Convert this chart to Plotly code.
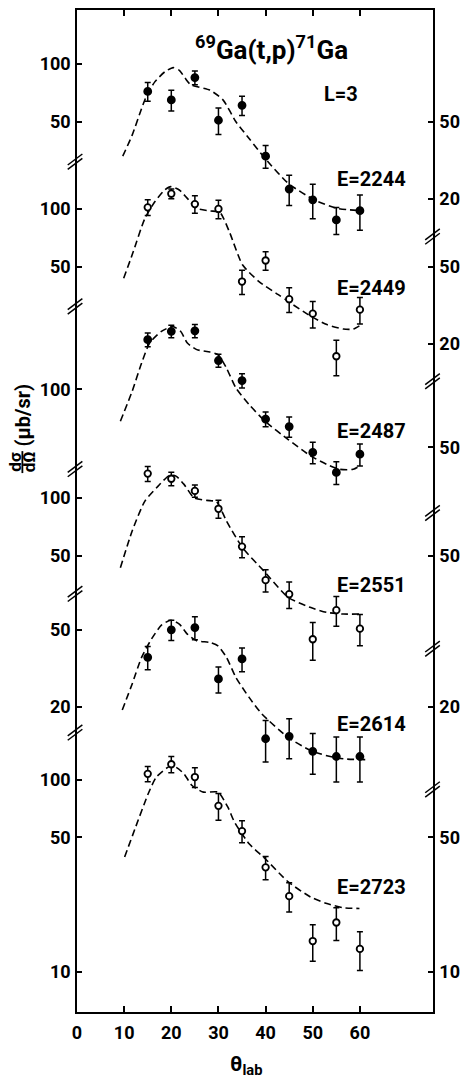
import plotly.graph_objects as go

# ---------------- data ----------------
theta = [15, 20, 25, 30, 35, 40, 45, 50, 55, 60]

energies = ["2244", "2449", "2487", "2551", "2614", "2723"]

sig_2244 = [72, 65, 85, 51, 61, 33.2, 22.4, 19.7, 15.5, 17.3]
err_2244 = [8, 8, 7, 8, 7, 4.5, 4, 4, 2.5, 3.6]
sig_2449 = [102, 120, 106, 100, 42, 54, 34, 28.6, 17.2, 30]
err_2449 = [9.5, 7, 11, 11, 6, 6, 5, 4.5, 3.6, 4.7]
sig_2487 = [181, 200, 201, 141, 111, 70, 64, 47, 37, 46]
err_2487 = [15, 15, 16, 11, 9.5, 6.2, 7.7, 6, 5, 6]
sig_2551 = [134, 126, 109, 88, 56, 37.5, 31.7, 18.5, 26.2, 21]
err_2551 = [12, 10, 8, 9.5, 7, 5, 5, 4.1, 4.6, 3.9]
sig_2614 = [36, 50, 51.4, 27.8, 35.3, 13.6, 14, 11.7, 11, 11]
err_2614 = [5, 6, 7, 4.3, 5, 3.3, 3.3, 2.8, 2.9, 2.9]
sig_2723 = [107, 120, 103, 73, 54, 35, 24.8, 14.5, 18.1, 13.2]
err_2723 = [9.7, 11.7, 12, 11.6, 7, 4.8, 4.3, 3.1, 3.5, 3]

# DWBA curves (L=3)
cx_2244 = [9.7, 11.7, 13.7, 14.8, 16.5, 18.6, 20.4, 21.7, 23.0, 24.1, 28.2, 31.0, 33.7, 36.5, 39.9, 44.8, 50.3, 55.1, 60.6]
cy_2244 = [33.2, 42.7, 58.7, 68.8, 80.7, 90.9, 95.7, 92.7, 83.9, 78.1, 73.1, 64.9, 50.1, 41, 32.3, 24, 19.7, 17.8, 17.3]
cx_2449 = [9.9, 11.7, 14.4, 16.5, 18.6, 19.9, 21.7, 23.4, 25.4, 28.2, 30.3, 32.3, 35.1, 38.6, 42.7, 44.8, 49.6, 53.0, 56.5, 58.6, 60.3]
cy_2449 = [43.7, 57.8, 89.4, 109, 125.5, 130.6, 125.5, 113.5, 100.7, 97.7, 96.1, 76.3, 51.3, 42, 35.9, 33.1, 27.7, 25.1, 23.8, 23.8, 25.1]
cx_2487 = [9.2, 11.7, 13.7, 15.4, 17.9, 20.3, 22.0, 23.4, 25.4, 28.2, 29.9, 31.7, 33.7, 36.5, 39.9, 44.8, 49.6, 53.0, 55.8, 58.6, 59.9]
cy_2487 = [68.2, 97.6, 136.8, 173.8, 199.6, 211.8, 199.6, 173.8, 160.6, 156, 151.3, 128.8, 101.6, 83.3, 68.2, 54.8, 45, 40.7, 38.4, 38.4, 39.9]
cx_2551 = [9.2, 11.7, 14.4, 17.2, 19.6, 21.0, 22.7, 24.8, 27.5, 29.6, 31.7, 35.1, 39.6, 44.8, 49.6, 53.0, 56.5, 59.9]
cy_2551 = [43.5, 67.5, 96.5, 115.4, 131.2, 130, 117.8, 100.4, 97.3, 95.7, 76, 55.3, 41.9, 30.5, 27, 25.5, 25, 25]
cx_2614 = [9.6, 11.7, 13.7, 15.8, 17.9, 19.9, 21.7, 23.4, 25.4, 28.2, 29.9, 31.7, 33.7, 36.5, 39.2, 44.8, 49.6, 53.0, 56.5, 61.3]
cy_2614 = [19.2, 26.2, 36, 44.8, 52.9, 56.1, 53.6, 47.5, 43.9, 43, 41.3, 36, 28.3, 22.3, 18.3, 13.8, 11.8, 11.1, 10.7, 10.6]
cx_2723 = [10.1, 12.3, 15.1, 16.8, 19.6, 21.0, 22.7, 24.4, 26.8, 29.9, 32.0, 33.4, 36.5, 39.9, 44.8, 49.6, 53.0, 56.5, 59.9]
cy_2723 = [39.6, 55.5, 84.3, 102.8, 116.8, 115.8, 107, 93.1, 86, 86, 71.8, 60.1, 46.4, 38.8, 29.4, 24.5, 22.7, 21.6, 21.4]

left_ticks = [[100, 50], [100, 50], [100], [100, 50], [50, 20], [100, 50, 10]]
right_ticks = [[50, 20], [50, 20], [50], [50], [20], [50, 10]]

# ---------------- layout parameters ----------------
W, H = 468, 1082
ML, MR, MT, MB = 77, 26, 8, 70
PW, PH = W - ML - MR, H - MT - MB
decade_shift = [3.715, 2.962, 2.026, 1.461, 1.078, 0.0]   # vertical stacking of panels (decades)
filled = [True, False, True, False, True, False]
YR = [0.793, 5.995]
FONT = "Roboto"

sigs = [sig_2244, sig_2449, sig_2487, sig_2551, sig_2614, sig_2723]
errs = [err_2244, err_2449, err_2487, err_2551, err_2614, err_2723]
cxs = [cx_2244, cx_2449, cx_2487, cx_2551, cx_2614, cx_2723]
cys = [cy_2244, cy_2449, cy_2487, cy_2551, cy_2614, cy_2723]

fig = go.Figure()
ltv, ltt, rtv, rtt = [], [], [], []
for k in range(6):
    f = 10 ** decade_shift[k]
    fig.add_trace(go.Scatter(
        x=cxs[k], y=[v * f for v in cys[k]], mode="lines",
        line=dict(color="black", width=1.6, dash="7px,4px", shape="spline", smoothing=0.6),
        showlegend=False, hoverinfo="skip", yaxis="y"))
    fig.add_trace(go.Scatter(
        x=theta, y=[v * f for v in sigs[k]], mode="markers",
        error_y=dict(type="data", array=[e * f for e in errs[k]], color="black", thickness=1.5, width=3),
        marker=dict(symbol="circle", size=7 if filled[k] else 6.5,
                    color="black" if filled[k] else "white",
                    line=dict(color="black", width=1.8)),
        showlegend=False, yaxis="y2"))
    for t in left_ticks[k]:
        ltv.append(t * f); ltt.append(str(t))
    for t in right_ticks[k]:
        rtv.append(t * f); rtt.append(str(t))

tickfont = dict(family=FONT, size=18, color="black", weight="bold")

fig.update_layout(
    width=W, height=H, autosize=False,
    margin=dict(l=ML, r=MR, t=MT, b=MB, pad=0),
    paper_bgcolor="white", plot_bgcolor="white",
    showlegend=False,
    xaxis=dict(range=[0, 75.5], tickvals=[0, 10, 20, 30, 40, 50, 60],
               ticktext=["0", "10", "20", "30", "40", "50", "60"],
               ticks="inside", ticklen=6, tickwidth=1.5, tickcolor="black",
               showline=True, linecolor="black", linewidth=1.5, mirror="ticks",
               showgrid=False, zeroline=False, tickfont=tickfont, ticklabelstandoff=4),
    yaxis=dict(type="log", range=YR, tickvals=ltv, ticktext=ltt,
               ticks="inside", ticklen=5, tickwidth=1.5, tickcolor="black",
               showline=True, linecolor="black", linewidth=1.5,
               showgrid=False, zeroline=False, tickfont=tickfont, ticklabelstandoff=1),
    yaxis2=dict(type="log", range=YR, tickvals=rtv, ticktext=rtt, overlaying="y", side="right",
                ticks="inside", ticklen=5, tickwidth=1.5, tickcolor="black",
                showline=True, linecolor="black", linewidth=1.5,
                showgrid=False, zeroline=False, tickfont=tickfont, ticklabelstandoff=1),
)


def px(xp, yp):
    return (xp - ML) / PW, (H - MB - yp) / PH


# axis-break marks (//)
shapes = []
for xa, ys in ((ML - 1.5, [160, 305, 468, 593, 732]), (W - MR, [235, 380, 512, 648, 789])):
    for yb in ys:
        for d in (-2.2, 2.2):
            x0, y0 = px(xa - 8, yb + 5.5 + d)
            x1, y1 = px(xa + 7, yb - 5.5 + d)
            shapes.append(dict(type="line", xref="paper", yref="paper", x0=x0, y0=y0, x1=x1, y1=y1,
                               line=dict(color="black", width=1.5), layer="above"))
# fraction bar of dσ/dΩ
fx0, fy0 = px(21, 450)
fx1, fy1 = px(21, 472)
shapes.append(dict(type="line", xref="paper", yref="paper", x0=fx0, y0=fy0, x1=fx1, y1=fy1,
                   line=dict(color="black", width=1.8)))
fig.update_layout(shapes=shapes)

ann = []


def add_text(text, xp, yp, size, xanchor="center", angle=0):
    x, y = px(xp, yp)
    ann.append(dict(text=text, x=x, y=y, xref="paper", yref="paper", showarrow=False,
                    xanchor=xanchor, yanchor="middle", textangle=angle,
                    font=dict(family=FONT, size=size, color="black", weight="bold")))


add_text("<sup>69</sup>Ga(t,p)<sup>71</sup>Ga", 276, 46, 26)
add_text("L=3", 328, 92, 20, xanchor="left")
for e, yp in zip(energies, [177, 287, 430, 584, 723, 887]):
    add_text("E=" + e, 342, yp, 20, xanchor="left")
add_text("dσ", 14, 461, 17, angle=-90)
add_text("dΩ", 28, 461, 17, angle=-90)
add_text("(μb/sr)", 22, 414, 20, angle=-90)
add_text("θ<sub>lab</sub>", 250, 1066, 21)
fig.update_layout(annotations=ann)

fig.write_html("out.html", config={"displayModeBar": False},
               post_script="document.body.style.margin='0';document.body.style.overflow='hidden';")
